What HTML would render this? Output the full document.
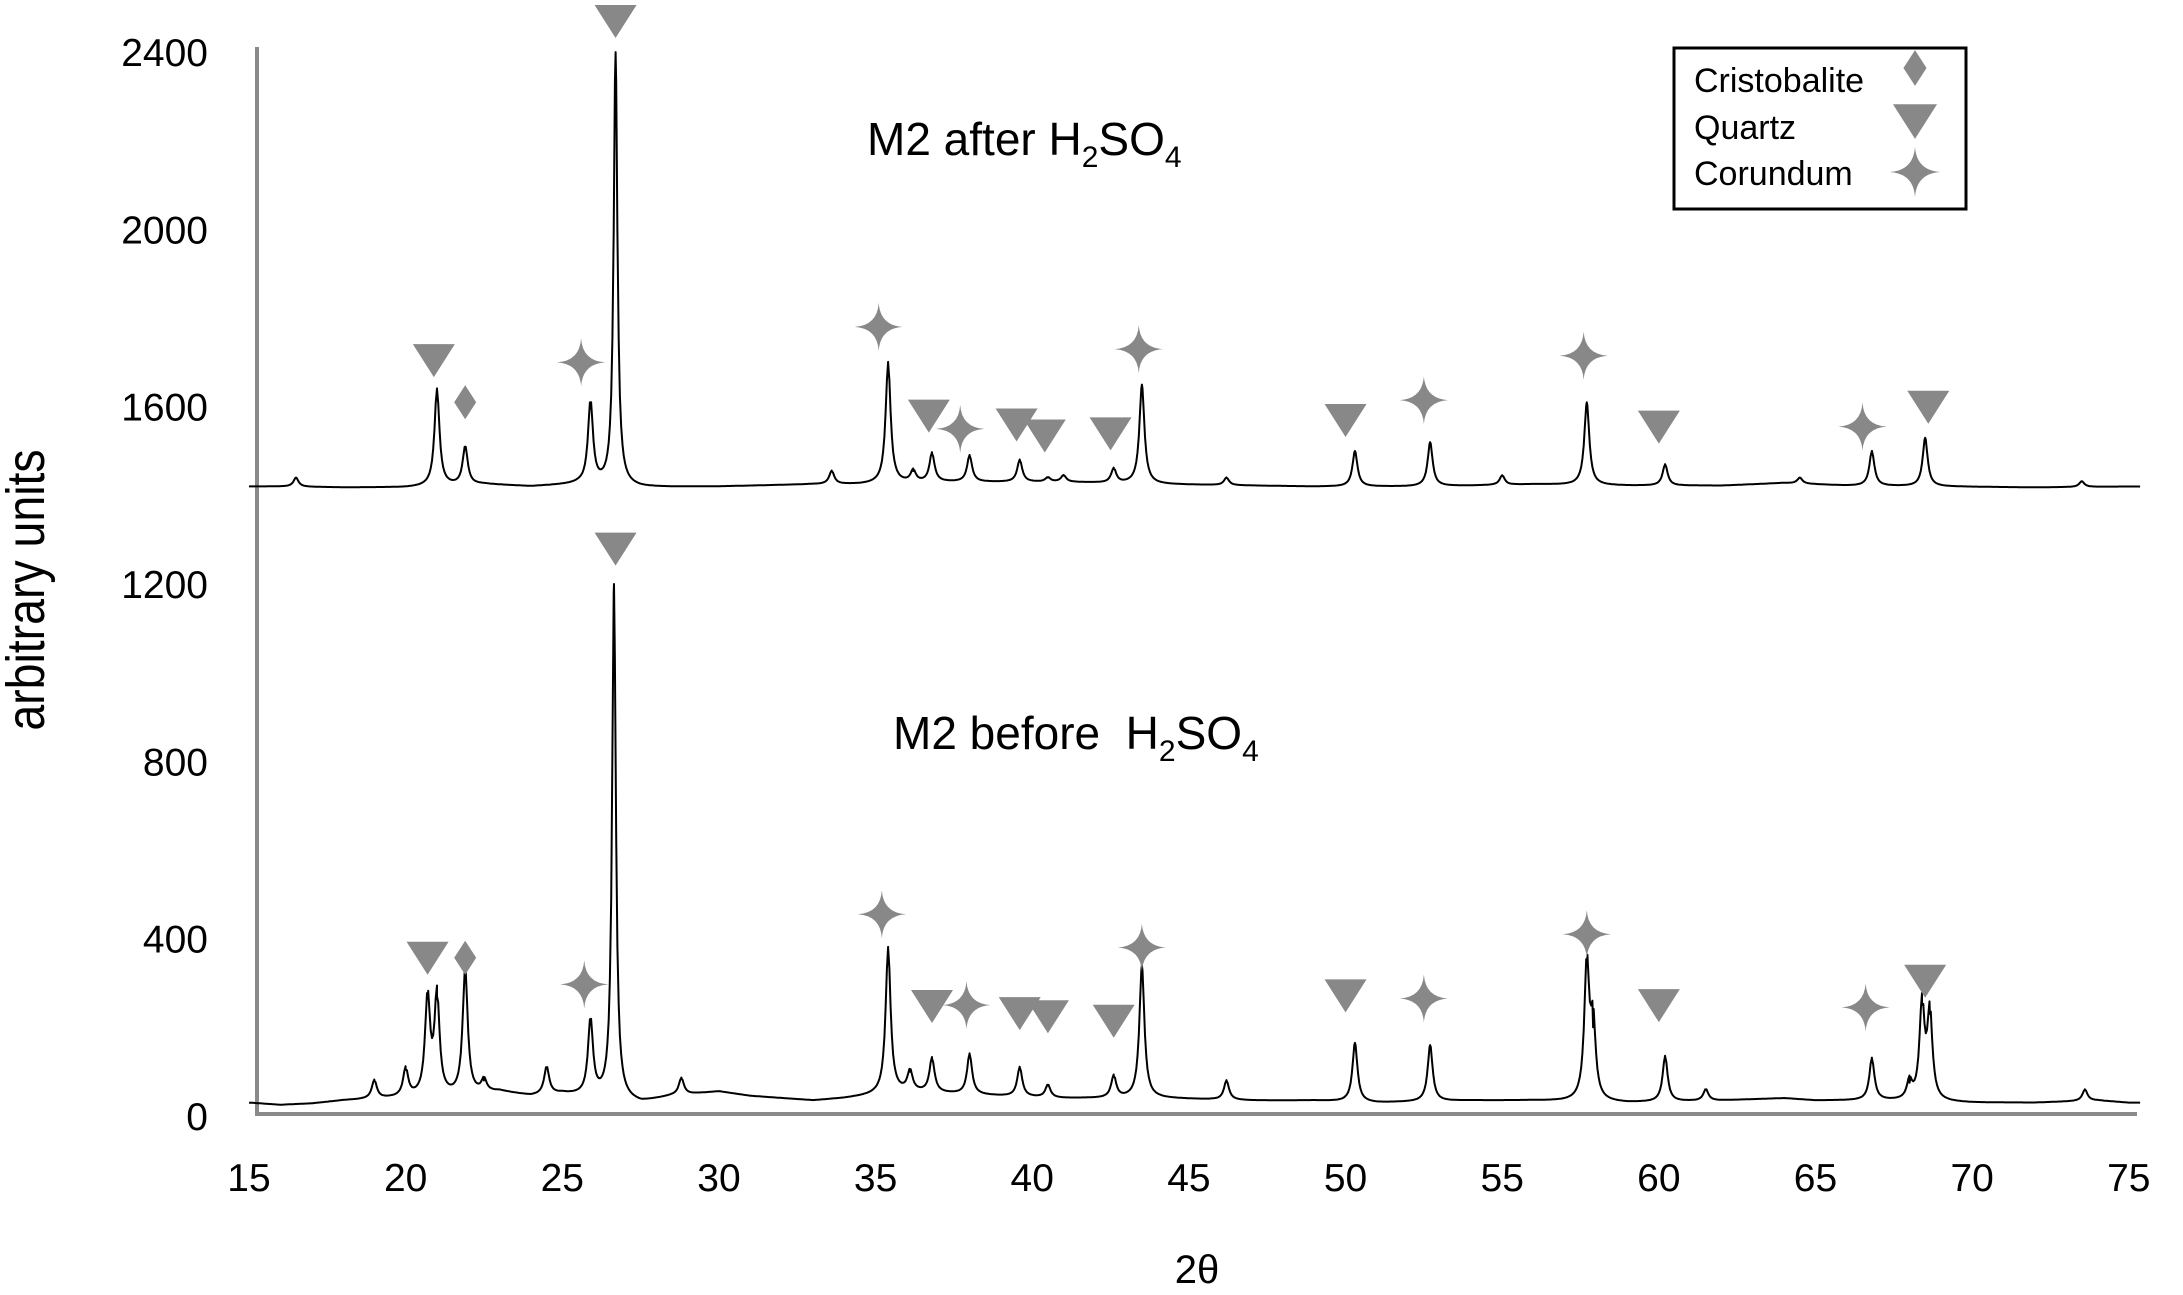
<!DOCTYPE html>
<html><head><meta charset="utf-8"><style>
html,body{margin:0;padding:0;background:#fff}
svg{display:block}
text{font-family:"Liberation Sans",sans-serif;fill:#000}
</style></head><body>
<svg id="chart" width="2183" height="1295" viewBox="0 0 2183 1295">
<g id="axes"></g>
<g id="series"></g>
<g id="markers"></g>
<text x="867" y="155" font-size="46">M2 after H<tspan font-size="30" dy="12">2</tspan><tspan dy="-12">SO</tspan><tspan font-size="30" dy="12">4</tspan></text>
<text x="893" y="749" font-size="46">M2 before&#160;&#160;H<tspan font-size="30" dy="12">2</tspan><tspan dy="-12">SO</tspan><tspan font-size="30" dy="12">4</tspan></text>
<text x="0" y="0" font-size="54" transform="translate(44,590) rotate(-90) scale(0.86,1)" text-anchor="middle">arbitrary units</text>
<text x="1197" y="1295" font-size="40" text-anchor="middle" dy="-12">2θ</text>
<g>
<rect x="1674" y="48" width="292" height="161" fill="#fff" stroke="#000" stroke-width="3"/>
<text x="1694" y="92" font-size="34">Cristobalite</text>
<text x="1694" y="139" font-size="34">Quartz</text>
<text x="1694" y="185" font-size="34">Corundum</text>
<g id="legendMarks"></g>
</g>
</svg>
<script>
const xTicks=[15,20,25,30,35,40,45,50,55,60,65,70,75];
const yTicks=[0,400,800,1200,1600,2000,2400];
// before series: baseline and peaks
const beforeBaseX=[15,16,17,18,19.5,21.5,23,24,25,27.5,28.5,30,31,33,34,36,39,41,44,47,49,51,54,56,59,62,64,65,67,70,72,74,75];
const beforeBaseY=[30,25,28,35,40,45,55,45,50,30,45,55,45,35,40,55,45,40,40,35,35,30,35,35,30,35,40,35,35,30,30,35,30];
const beforePos=[19.0,20.0,20.7,21.0,21.9,22.5,24.5,25.9,26.65,28.8,35.4,36.1,36.8,38.0,39.6,40.5,42.6,43.5,46.2,50.3,52.7,57.7,57.9,60.2,61.5,66.8,68.0,68.4,68.65,73.6];
const beforeInt=[80,105,265,270,330,80,110,215,1200,85,380,100,130,140,110,70,90,340,80,165,160,340,200,135,60,130,75,250,230,60];
// after series
const afterBaseX=[15,16,18,20,22.5,24,25.5,27.5,30,33,34.5,37,41,44,47,49,52,54,56,59,62,64,66,69,72,75];
const afterBaseY=[1420,1420,1418,1418,1425,1420,1425,1418,1420,1425,1425,1430,1430,1425,1422,1420,1420,1422,1425,1422,1422,1428,1422,1420,1418,1420];
const afterPos=[16.5,21.0,21.9,25.9,26.7,33.6,35.4,36.2,36.8,38.0,39.6,40.5,41.0,42.6,43.5,46.2,50.3,52.7,55.0,57.7,60.2,64.5,66.8,68.5,73.5];
const afterInt=[1440,1640,1510,1610,2400,1455,1700,1455,1495,1490,1480,1440,1445,1460,1650,1440,1500,1520,1445,1610,1470,1440,1500,1530,1432];
// markers: type 0 diamond,1 triangle,2 star
const mkBeforeX=[20.7,21.9,25.7,26.7,35.2,36.8,37.9,39.6,40.5,42.6,43.5,50.0,52.5,57.7,60.0,66.6,68.5];
const mkBeforeY=[357,357,297,1280,455,248,250,232,225,215,380,272,265,410,250,245,305];
const mkBeforeT=[1,0,2,1,2,1,2,1,1,1,2,1,2,2,1,2,1];
const mkAfterX=[20.9,21.9,25.6,26.7,35.1,36.7,37.7,39.5,40.4,42.5,43.4,50.0,52.5,57.6,60.0,66.5,68.6];
const mkAfterY=[1705,1610,1700,2470,1780,1580,1550,1560,1535,1540,1730,1570,1615,1715,1555,1555,1600];
const mkAfterT=[1,0,2,1,2,1,2,1,1,1,2,1,2,2,1,2,1];

const NS="http://www.w3.org/2000/svg";
const X=v=>249+(v-15)*31.33;
const Y=v=>1116-v*0.4433;
function el(t,a,p){const e=document.createElementNS(NS,t);for(const k in a)e.setAttribute(k,a[k]);p.appendChild(e);return e;}
const axes=document.getElementById('axes');
let l=el('line',{x1:257,y1:47,x2:257,y2:1116,stroke:'#8a8a8a','stroke-width':4},axes);


l=el('line',{x1:255,y1:1114,x2:2137,y2:1114,stroke:'#8a8a8a','stroke-width':4},axes);


xTicks.forEach(v=>{const t=el('text',{x:X(v),y:1191,'font-size':39,'text-anchor':'middle'},axes);t.textContent=v;

});
yTicks.forEach(v=>{const t=el('text',{x:208,y:Y(v)+14,'font-size':39,'text-anchor':'end'},axes);t.textContent=v;

});

function baseAt(bx,by,x){for(let i=0;i<bx.length-1;i++){if(x>=bx[i]&&x<=bx[i+1]){return by[i]+(by[i+1]-by[i])*(x-bx[i])/(bx[i+1]-bx[i]);}}return by[by.length-1];}
function buildPath(bx,by,pos,inten){
  let xs=[];
  for(let x=15;x<=75.4;x+=0.04)xs.push(x);
  const pts=xs.map(x=>{let b=baseAt(bx,by,x);let y=b;
    for(let i=0;i<pos.length;i++){const pb=baseAt(bx,by,pos[i]);const h=inten[i]-pb;const w=h>500?0.09:0.12;const d=(x-pos[i])/w;y+=h/(1+d*d*1.6);}
    return [x,y];});
  pos.forEach((p,i)=>pts.push([p,inten[i]]));
  pts.sort((a,b)=>a[0]-b[0]);
  return pts.map((p,i)=>(i?'L':'M')+X(p[0]).toFixed(1)+','+Y(p[1]).toFixed(1)).join('');
}
const sg=document.getElementById('series');
let p=el('path',{d:buildPath(beforeBaseX,beforeBaseY,beforePos,beforeInt),fill:'none',stroke:'#000','stroke-width':2,'stroke-linejoin':'round'},sg);


p=el('path',{d:buildPath(afterBaseX,afterBaseY,afterPos,afterInt),fill:'none',stroke:'#000','stroke-width':2,'stroke-linejoin':'round'},sg);



function marker(t,cx,cy,g,s){s=s||1;let e;
  if(t===0)e=el('polygon',{points:`${cx},${cy-17*s} ${cx+11*s},${cy} ${cx},${cy+17*s} ${cx-11*s},${cy}`,fill:'#888'},g);
  else if(t===1)e=el('polygon',{points:`${cx-21*s},${cy-16*s} ${cx+21*s},${cy-16*s} ${cx},${cy+17*s}`,fill:'#888'},g);
  else {const r=24*s,q=1.5*s;e=el('path',{d:`M${cx-r},${cy}Q${cx-q},${cy-q} ${cx},${cy-r}Q${cx+q},${cy-q} ${cx+r},${cy}Q${cx+q},${cy+q} ${cx},${cy+r}Q${cx-q},${cy+q} ${cx-r},${cy}Z`,fill:'#888'},g);}
  return e;}
const mg=document.getElementById('markers');
mkBeforeX.forEach((v,i)=>{const m=marker(mkBeforeT[i],X(v),Y(mkBeforeY[i]),mg);

});
mkAfterX.forEach((v,i)=>{const m=marker(mkAfterT[i],X(v),Y(mkAfterY[i]),mg);

});
const lg=document.getElementById('legendMarks');
[[0,68],[1,121],[2,172]].forEach(([t,y])=>{const m=marker(t,1915,y,lg,1.05);

});
</script>
</body></html>
